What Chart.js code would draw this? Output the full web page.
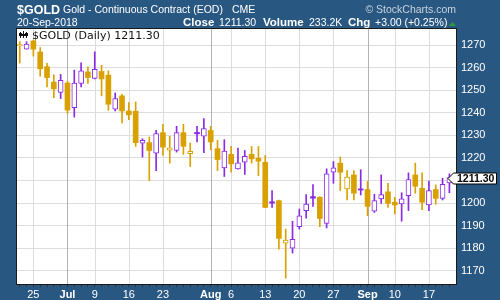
<!DOCTYPE html>
<html>
<head>
<meta charset="utf-8">
<script src="https://cdn.jsdelivr.net/npm/chart.js@4.4.1/dist/chart.umd.min.js"></script>
<style>
  html, body { margin: 0; padding: 0; background: #285782; }
  canvas { display: block; }
</style>
</head>
<body>
<canvas id="chart" width="500" height="300"></canvas>
<script>
// trading days shown (Jul 4 and Labor Day closed)
const dates = [
  '2018-06-21','2018-06-22','2018-06-25','2018-06-26','2018-06-27','2018-06-28','2018-06-29',
  '2018-07-02','2018-07-03','2018-07-05','2018-07-06',
  '2018-07-09','2018-07-10','2018-07-11','2018-07-12','2018-07-13',
  '2018-07-16','2018-07-17','2018-07-18','2018-07-19','2018-07-20',
  '2018-07-23','2018-07-24','2018-07-25','2018-07-26','2018-07-27',
  '2018-07-30','2018-07-31','2018-08-01','2018-08-02','2018-08-03',
  '2018-08-06','2018-08-07','2018-08-08','2018-08-09','2018-08-10',
  '2018-08-13','2018-08-14','2018-08-15','2018-08-16','2018-08-17',
  '2018-08-20','2018-08-21','2018-08-22','2018-08-23','2018-08-24',
  '2018-08-27','2018-08-28','2018-08-29','2018-08-30','2018-08-31',
  '2018-09-04','2018-09-05','2018-09-06','2018-09-07',
  '2018-09-10','2018-09-11','2018-09-12','2018-09-13','2018-09-14',
  '2018-09-17','2018-09-18','2018-09-19','2018-09-20'
];
const open = [
  1269.6,1268.2,1271.8,1266.9,1260.4,1253.6,1249.0,
  1253.2,1242.3,1253.0,1258.1,
  1255.2,1258.3,1256.7,1241.6,1247.5,
  1240.8,1240.7,1226.6,1226.8,1222.1,
  1231.2,1223.5,1223.3,1231.2,1221.9,
  1231.3,1229.7,1232.2,1224.1,1215.6,
  1221.6,1215.2,1218.1,1221.6,1219.9,
  1218.1,1200.6,1201.1,1182.3,1180.1,
  1189.6,1196.7,1202.9,1202.6,1191.0,
  1213.7,1217.7,1206.3,1212.5,1206.3,
  1206.0,1196.4,1201.9,1205.0,
  1200.4,1199.6,1203.3,1212.5,1206.6,
  1199.2,1206.0,1202.1,1209.0
];
const high = [
  1271.5,1271.5,1272.2,1268.9,1261.9,1256.8,1257.0,
  1253.9,1258.9,1262.1,1260.4,
  1267.0,1261.0,1258.6,1248.8,1248.2,
  1244.5,1244.8,1228.5,1229.3,1232.2,
  1234.9,1229.6,1234.0,1234.9,1226.6,
  1234.0,1237.4,1234.0,1227.8,1228.1,
  1225.2,1224.4,1223.3,1225.1,1225.1,
  1221.1,1205.6,1201.4,1188.5,1192.0,
  1197.4,1203.8,1208.2,1202.9,1215.2,
  1218.4,1220.4,1214.4,1214.4,1214.8,
  1209.6,1203.9,1212.5,1208.8,
  1202.6,1204.6,1213.4,1217.7,1213.4,
  1209.8,1208.1,1211.0,1213.0
];
const low = [
  1262.0,1268.2,1265.1,1256.2,1251.5,1246.7,1246.3,
  1239.8,1238.1,1251.5,1253.0,
  1255.0,1247.5,1241.1,1240.8,1235.5,
  1237.0,1225.1,1220.4,1210.0,1214.4,
  1221.1,1217.7,1222.6,1221.6,1216.2,
  1227.1,1222.3,1223.6,1214.4,1211.8,
  1213.7,1215.0,1212.7,1217.7,1212.2,
  1198.0,1198.1,1179.6,1166.8,1177.9,
  1188.5,1193.4,1198.6,1189.6,1189.0,
  1208.8,1205.6,1201.4,1201.4,1203.6,
  1194.4,1195.9,1199.9,1198.1,
  1195.2,1192.0,1196.7,1204.4,1197.1,
  1196.7,1199.5,1201.4,1204.6
];
const close = [
  1270.2,1270.4,1268.2,1259.5,1255.6,1250.6,1254.4,
  1241.2,1253.2,1258.6,1255.6,
  1259.2,1255.0,1243.8,1246.3,1240.8,
  1239.1,1226.8,1227.8,1223.3,1230.8,
  1224.8,1224.5,1231.2,1225.2,1222.9,
  1230.7,1233.0,1227.1,1219.3,1223.0,
  1217.4,1217.9,1220.7,1219.6,1218.6,
  1198.1,1200.0,1184.4,1183.6,1184.0,
  1194.4,1199.6,1202.2,1193.2,1213.0,
  1215.6,1213.7,1211.5,1204.4,1205.8,
  1198.6,1201.1,1203.8,1199.9,
  1199.2,1201.9,1210.4,1207.5,1200.4,
  1205.6,1202.1,1208.3,1211.30
];
const priorClose = 1270.9;

const tickDates = ['2018-06-25','2018-07-02','2018-07-09','2018-07-16','2018-07-23','2018-08-01',
  '2018-08-06','2018-08-13','2018-08-20','2018-08-27','2018-09-04','2018-09-10','2018-09-17'];
const tickTexts = ['25','Jul','9','16','23','Aug','6','13','20','27','Sep','10','17'];
const monthTexts = ['Jul','Aug','Sep'];
const yTicks = [1170,1180,1190,1200,1210,1220,1230,1240,1250,1260,1270];

const GOLD = '#d9a100';
const PURPLE = '#8a2be2';
const BG = '#285782';
const FONT = '"Liberation Sans", Arial, sans-serif';

const colors = close.map((c, i) => c >= (i ? close[i - 1] : priorClose) ? PURPLE : GOLD);
const hollow = close.map((c, i) => c > open[i]);

function labelAt(i) {
  const k = tickDates.indexOf(dates[i]);
  return k < 0 ? '' : tickTexts[k];
}

const frame = {
  id: 'frame',
  beforeDraw(chart) {
    const { ctx, chartArea: a } = chart;
    ctx.save();
    ctx.fillStyle = BG;
    ctx.fillRect(0, 0, chart.width, chart.height);
    ctx.fillStyle = '#fff';
    ctx.fillRect(a.left, a.top, a.right - a.left, a.bottom - a.top);
    ctx.restore();
  },
  beforeDatasetsDraw(chart) {
    // weekly and monthly vertical grid lines at the labelled days
    const { ctx, chartArea: a, scales: { x } } = chart;
    ctx.save();
    ctx.lineWidth = 1;
    tickDates.forEach((d, k) => {
      const px = Math.round(x.getPixelForValue(dates.indexOf(d))) + 0.5;
      ctx.strokeStyle = monthTexts.includes(tickTexts[k]) ? '#b4b4b4' : '#dedede';
      ctx.beginPath();
      ctx.moveTo(px, a.top);
      ctx.lineTo(px, a.bottom);
      ctx.stroke();
    });
    ctx.restore();
  },
  afterDraw(chart) {
    const { ctx, chartArea: a } = chart;
    ctx.save();
    ctx.strokeStyle = '#1a1a1a';
    ctx.lineWidth = 1;
    ctx.strokeRect(a.left - 0.5, a.top - 0.5, a.right - a.left + 1, a.bottom - a.top + 1);

    // header line 1
    ctx.fillStyle = '#fff';
    ctx.textBaseline = 'alphabetic';
    ctx.font = 'bold 12.5px ' + FONT;
    ctx.fillText('$GOLD', 17, 13.5);
    ctx.font = '10.5px ' + FONT;
    ctx.fillText('Gold - Continuous Contract (EOD)', 63, 13);
    ctx.fillText('CME', 232, 13);
    ctx.fillStyle = '#c9d3dd';
    ctx.textAlign = 'right';
    ctx.fillText('\u00a9 StockCharts.com', 456, 13);
    ctx.textAlign = 'left';

    // header line 2
    ctx.fillStyle = '#fff';
    ctx.font = '10.5px ' + FONT;
    ctx.fillText('20-Sep-2018', 17, 26);
    ctx.font = 'bold 11.5px ' + FONT;
    ctx.fillText('Close', 183, 26);
    ctx.fillText('Volume', 263, 26);
    ctx.fillText('Chg', 348, 26);
    ctx.font = '10.5px ' + FONT;
    ctx.fillText('1211.30', 219, 26);
    ctx.fillText('233.2K', 309, 26);
    ctx.fillText('+3.00 (+0.25%)', 375, 26);
    ctx.fillStyle = '#2f9a3a';
    ctx.beginPath();
    ctx.moveTo(449, 26); ctx.lineTo(456, 26); ctx.lineTo(452.5, 22);
    ctx.closePath(); ctx.fill();

    // legend inside plot
    ctx.fillStyle = '#111';
    ctx.fillRect(20, 32, 1, 6); ctx.fillRect(19, 33, 3, 3);
    ctx.fillRect(23, 31, 1, 7); ctx.fillRect(22, 34, 3, 2);
    ctx.fillRect(26, 32, 1, 6); ctx.fillRect(25, 33, 3, 3);
    ctx.font = '11px "DejaVu Sans", Verdana, sans-serif';
    ctx.fillText('$GOLD (Daily) 1211.30', 32, 38.5);

    // last price marker
    const y = Math.round(chart.scales.y.getPixelForValue(close[close.length - 1])) + 0.5;
    ctx.fillStyle = '#fff';
    ctx.strokeStyle = '#000';
    ctx.beginPath();
    ctx.moveTo(448, y);
    ctx.lineTo(453.5, y - 5.5);
    ctx.lineTo(496.5, y - 5.5);
    ctx.lineTo(496.5, y + 5.5);
    ctx.lineTo(453.5, y + 5.5);
    ctx.closePath();
    ctx.fill(); ctx.stroke();
    ctx.fillStyle = '#000';
    ctx.font = 'bold 10.5px ' + FONT;
    ctx.textBaseline = 'middle';
    ctx.fillText(close[close.length - 1].toFixed(2), 457, y + 0.5);
    ctx.restore();
  }
};

new Chart(document.getElementById('chart'), {
  type: 'bar',
  data: {
    datasets: [
      {
        // bodies, drawn over the wicks
        order: 0,
        grouped: false,
        barThickness: 5,
        data: dates.map((d, i) => ({ x: i, y: [open[i], close[i]] })),
        backgroundColor: colors.map((c, i) => hollow[i] ? '#fff' : c),
        borderColor: colors,
        borderWidth: hollow.map(h => h ? 1 : 0),
        borderSkipped: false
      },
      {
        // wicks
        order: 1,
        grouped: false,
        barThickness: 1,
        data: dates.map((d, i) => ({ x: i, y: [low[i], high[i]] })),
        backgroundColor: colors,
        borderWidth: 0
      }
    ]
  },
  options: {
    responsive: false,
    animation: false,
    devicePixelRatio: 1,
    layout: { padding: { left: 17, top: 29, right: 0, bottom: 0 } },
    plugins: { legend: { display: false }, tooltip: { enabled: false } },
    scales: {
      x: {
        type: 'linear',
        position: 'bottom',
        min: -0.4,
        max: 63.97,
        offset: false,
        afterBuildTicks: s => { s.ticks = dates.map((d, i) => ({ value: i })); },
        afterFit: s => { s.height = 16; },
        border: { display: false },
        grid: { offset: false, drawOnChartArea: false, color: '#333', tickLength: 3 },
        ticks: {
          autoSkip: false,
          maxRotation: 0,
          padding: 1,
          color: '#fff',
          font: c => ({ family: FONT, size: 11,
            weight: c.tick && monthTexts.includes(labelAt(c.tick.value)) ? 'bold' : 'normal' }),
          callback: v => labelAt(v)
        }
      },
      y: {
        type: 'linear',
        position: 'right',
        min: 1164.2,
        max: 1277.1,
        afterBuildTicks: s => { s.ticks = yTicks.map(v => ({ value: v })); },
        afterFit: s => { s.width = 44; },
        border: { display: false },
        grid: { color: '#dedede', drawTicks: false },
        ticks: { color: '#fff', padding: 5, font: { family: FONT, size: 11 }, callback: v => String(v) }
      }
    }
  },
  plugins: [frame]
});
</script>
</body>
</html>
